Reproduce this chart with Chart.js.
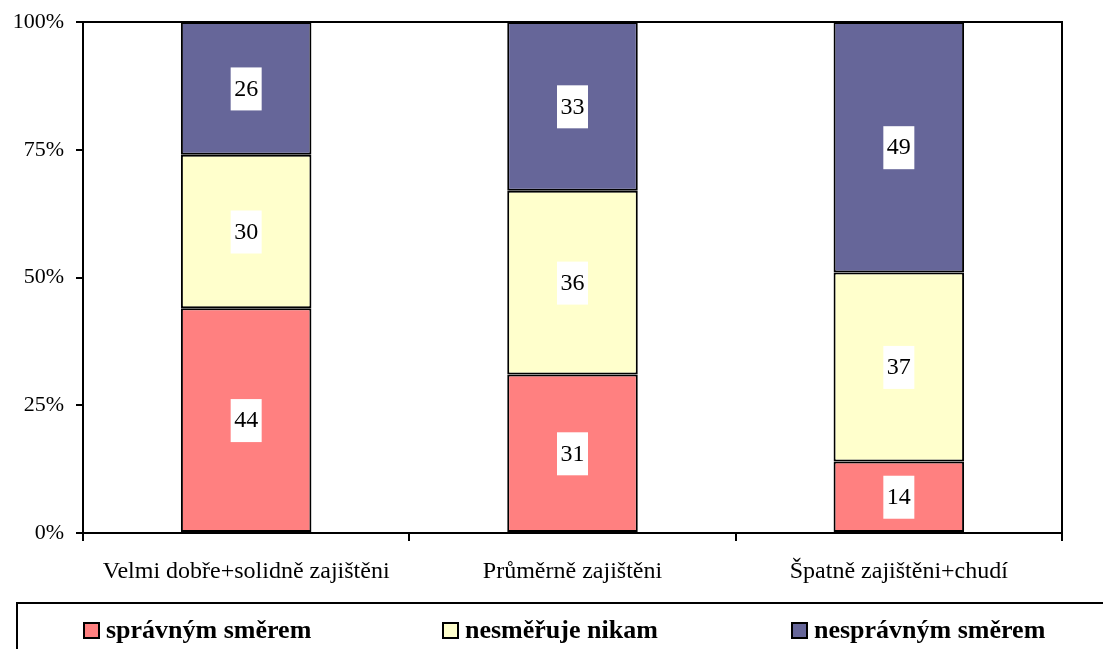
<!DOCTYPE html>
<html>
<head>
<meta charset="utf-8">
<script src="https://cdn.jsdelivr.net/npm/chart.js@4/dist/chart.umd.min.js"></script>
<style>
  body { margin: 0; background: #fff; }
  #wrap { position: relative; width: 1103px; height: 649px; overflow: hidden; }
  #legend {
    position: absolute; left: 16px; top: 602px; width: 1100px; height: 60px;
    border: 2px solid #000; box-sizing: border-box;
    font-family: "Liberation Serif", "Times New Roman", serif; font-weight: bold; font-size: 26px;
  }
  .item { position: absolute; top: 11px; display: flex; align-items: center; white-space: nowrap; }
  .swatch { width: 13px; height: 13px; border: 2px solid #000; margin-right: 6px; }
</style>
</head>
<body>
<div id="wrap">
  <canvas id="c" width="1103" height="649"></canvas>
  <div id="legend"></div>
</div>
<script>
const categories = ['Velmi dobře+solidně zajištěni', 'Průměrně zajištěni', 'Špatně zajištěni+chudí'];
const seriesNames = ['správným směrem', 'nesměřuje nikam', 'nesprávným směrem'];
const spravnym = [44, 31, 14];
const nesmeruje = [30, 36, 37];
const nespravnym = [26, 33, 49];
const yTicks = [0, 25, 50, 75, 100];
const colors = ['#FF8080', '#FFFFCC', '#666699'];

const font = '"Liberation Serif", "Times New Roman", serif';

// white boxes with the value in every segment
const valueLabels = {
  id: 'valueLabels',
  afterDatasetsDraw(chart) {
    const ctx = chart.ctx;
    ctx.save();
    ctx.font = '24px ' + font;
    ctx.textAlign = 'center';
    ctx.textBaseline = 'middle';
    chart.data.datasets.forEach((ds, i) => {
      chart.getDatasetMeta(i).data.forEach((bar, j) => {
        const cy = (bar.y + bar.base) / 2;
        const txt = String(ds.data[j]);
        const w = ctx.measureText(txt).width + 7;
        ctx.fillStyle = '#fff';
        ctx.fillRect(bar.x - w / 2, cy - 21, w, 43);
        ctx.fillStyle = '#000';
        ctx.fillText(txt, bar.x, cy + 1);
      });
    });
    ctx.restore();
  }
};

// frame around the plot area
const frame = {
  id: 'frame',
  afterDraw(chart) {
    const a = chart.chartArea, ctx = chart.ctx;
    ctx.save();
    ctx.strokeStyle = '#000';
    ctx.lineWidth = 2;
    ctx.strokeRect(a.left, a.top, a.right - a.left, a.bottom - a.top);
    ctx.restore();
  }
};

const chart = new Chart(document.getElementById('c'), {
  type: 'bar',
  data: {
    labels: categories,
    datasets: [spravnym, nesmeruje, nespravnym].map((d, i) => ({
      label: seriesNames[i],
      data: d,
      backgroundColor: colors[i],
      borderColor: '#000',
      borderWidth: 2,
      borderSkipped: false,
      barPercentage: 0.4,
      categoryPercentage: 1
    }))
  },
  options: {
    responsive: false,
    animation: false,
    layout: { padding: { top: 22, right: 41, bottom: 66, left: 0 } },
    plugins: { legend: { display: false }, tooltip: { enabled: false } },
    scales: {
      x: {
        stacked: true,
        afterFit(s) { s.height = 50; s.paddingLeft = 0; s.paddingRight = 0; },
        grid: { drawOnChartArea: false, tickLength: 8, color: '#000', lineWidth: 2, offset: true },
        border: { color: '#000', width: 2 },
        ticks: { color: '#000', font: { family: font, size: 24 }, padding: 16, maxRotation: 0 }
      },
      y: {
        stacked: true,
        min: 0, max: 100,
        afterFit(s) { s.width = 83; s.paddingTop = 0; s.paddingBottom = 0; },
        afterBuildTicks(s) { s.ticks = yTicks.map(v => ({ value: v })); },
        grid: { drawOnChartArea: false, tickLength: 7, color: '#000', lineWidth: 2 },
        border: { color: '#000', width: 2 },
        ticks: { color: '#000', font: { family: font, size: 22 }, padding: 12, callback: v => v + '%' }
      }
    }
  },
  plugins: [valueLabels, frame]
});

// legend in a framed box under the chart
const legendX = [65, 424, 773];
const legend = document.getElementById('legend');
chart.data.datasets.forEach((ds, i) => {
  const it = document.createElement('div');
  it.className = 'item';
  it.style.left = legendX[i] + 'px';
  it.innerHTML = '<span class="swatch" style="background:' + ds.backgroundColor + '"></span>' + ds.label;
  legend.appendChild(it);
});
</script>
</body>
</html>
